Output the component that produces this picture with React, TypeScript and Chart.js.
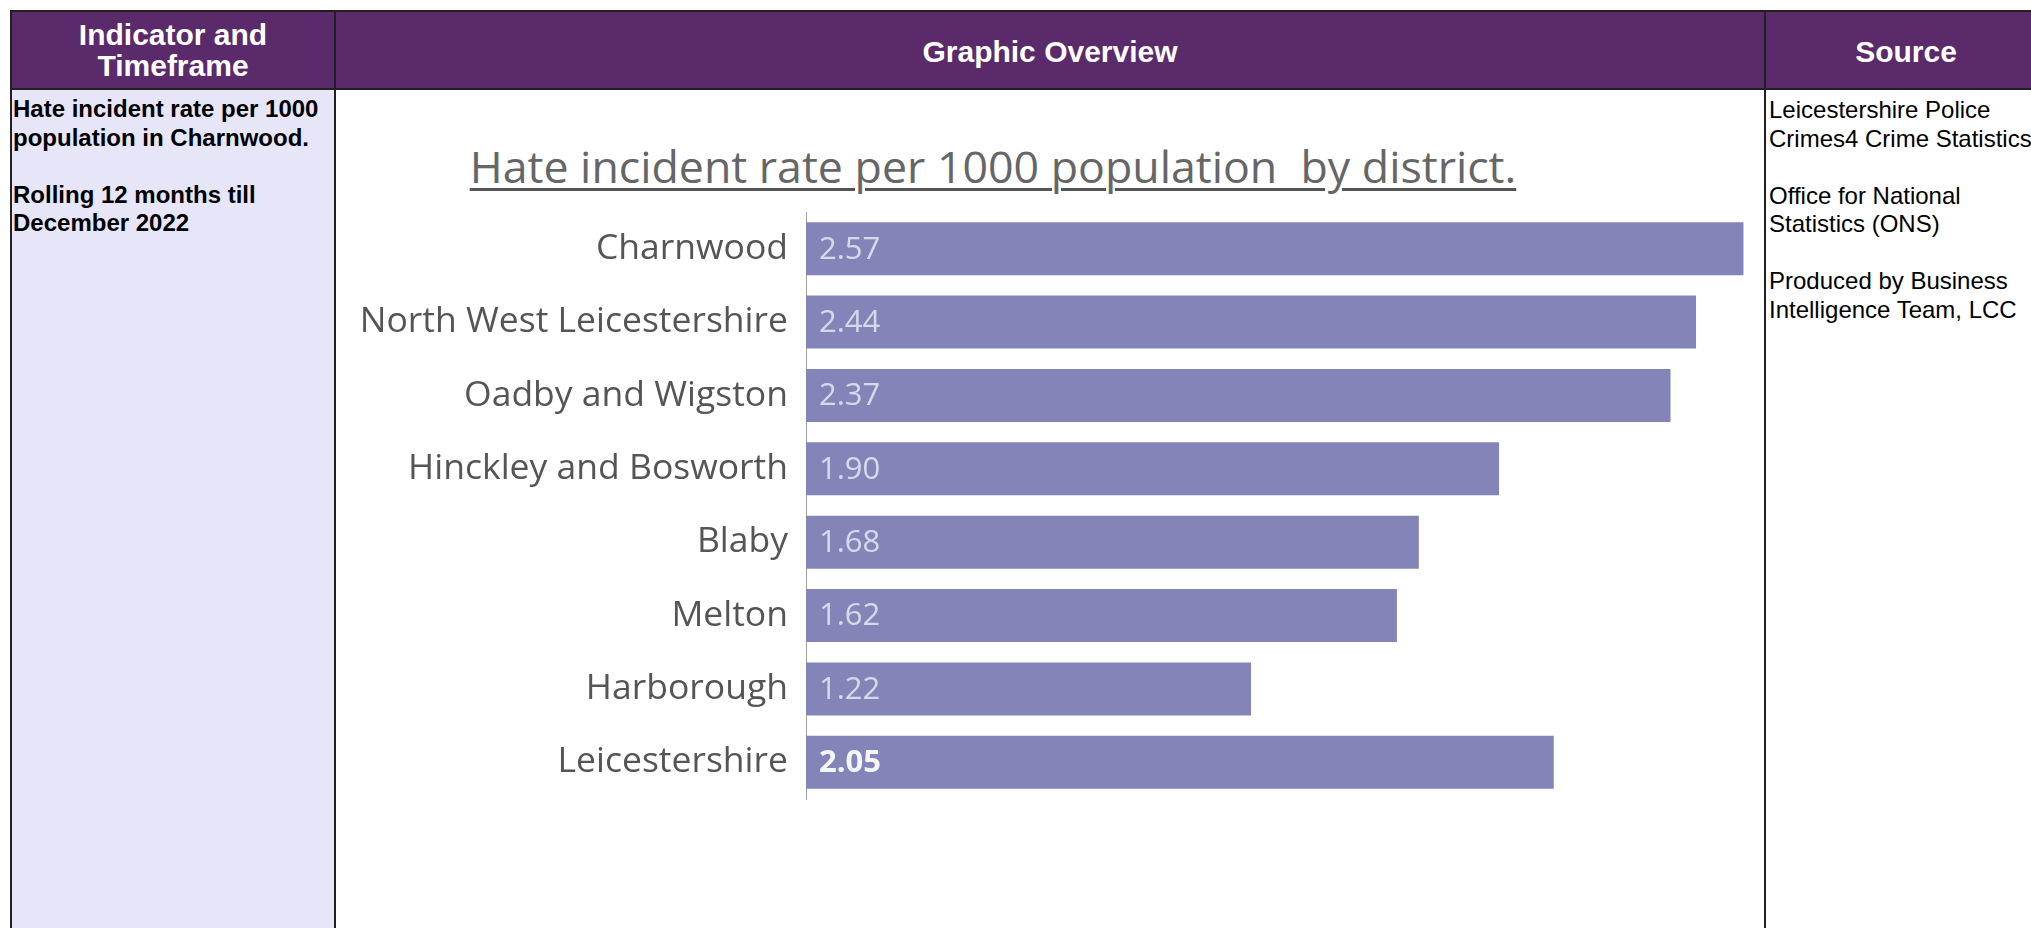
import React, { useEffect, useRef } from "react";
import { Chart, registerables } from "chart.js";

Chart.register(...registerables);

const categories = [
  "Charnwood",
  "North West Leicestershire",
  "Oadby and Wigston",
  "Hinckley and Bosworth",
  "Blaby",
  "Melton",
  "Harborough",
  "Leicestershire",
];
const rates = [2.57, 2.44, 2.37, 1.9, 1.68, 1.62, 1.22, 2.05];
const highlightCategory = "Leicestershire";
const chartTitle = "Hate incident rate per 1000 population  by district.";
const indicatorLines = ["Hate incident rate per 1000", "population in Charnwood.", "", "Rolling 12 months till", "December 2022"];
const sourceLines = [
  "Leicestershire Police",
  "Crimes4 Crime Statistics",
  "",
  "Office for National",
  "Statistics (ONS)",
  "",
  "Produced by Business",
  "Intelligence Team, LCC",
];

const PURPLE = "#5b2a6b";
const LINE = "#231f20";
const LAVENDER = "#e6e6f8";
const BAR = "#8385b9";
const CHART_FONT = "'Open Sans', 'Noto Sans', sans-serif";
const TABLE_FONT = "'Liberation Sans', Arial, sans-serif";

const valueLabelPlugin = {
  id: "valueLabels",
  afterDatasetsDraw(chart: any) {
    const ctx = chart.ctx;
    const meta = chart.getDatasetMeta(0);
    ctx.save();
    ctx.textBaseline = "middle";
    ctx.textAlign = "left";
    meta.data.forEach((bar: any, i: number) => {
      const isHi = categories[i] === highlightCategory;
      ctx.font = `${isHi ? "bold " : ""}31px ${CHART_FONT}`;
      ctx.fillStyle = isHi ? "rgba(255,255,255,0.93)" : "rgba(255,255,255,0.68)";
      ctx.fillText(rates[i].toFixed(2), bar.base + 13, bar.y + 1);
    });
    ctx.restore();
  },
};

function BarChart() {
  const ref = useRef<HTMLCanvasElement | null>(null);
  useEffect(() => {
    if (!ref.current) return;
    const chart = new Chart(ref.current, {
      type: "bar",
      data: {
        labels: categories,
        datasets: [
          {
            data: rates,
            backgroundColor: BAR,
            borderWidth: 0,
            barPercentage: 0.722,
            categoryPercentage: 1,
          },
        ],
      },
      options: {
        indexAxis: "y",
        animation: false,
        responsive: true,
        maintainAspectRatio: false,
        layout: { padding: { top: 121, bottom: 129, left: 0, right: 8.6 } },
        plugins: {
          legend: { display: false },
          tooltip: { enabled: false },
          title: { display: false },
        },
        scales: {
          x: { display: false, min: 0, max: 2.6 },
          y: {
            afterFit: (scale: any) => {
              scale.width = 469;
            },
            grid: { display: false, drawTicks: false },
            border: { display: true, color: "#a0a0a0", width: 1, dash: [1, 6] },
            ticks: {
              padding: 18,
              color: "#555555",
              font: { family: CHART_FONT, size: 35.5 },
            },
          },
        },
      },
      plugins: [valueLabelPlugin],
    });
    return () => chart.destroy();
  }, []);
  return <canvas ref={ref} />;
}

export default function App() {
  const abs = (s: React.CSSProperties): React.CSSProperties => ({ position: "absolute", ...s });
  return (
    <div
      style={{
        position: "fixed",
        left: 0,
        top: 0,
        width: 2031,
        height: 928,
        overflow: "hidden",
        background: "#ffffff",
      }}
    >
      {/* header background */}
      <div style={abs({ left: 10, top: 10, width: 2060, height: 79, background: PURPLE })} />
      {/* lavender column */}
      <div style={abs({ left: 12, top: 90, width: 323, height: 900, background: LAVENDER })} />
      {/* borders */}
      <div style={abs({ left: 10, top: 10, width: 2060, height: 2, background: LINE })} />
      <div style={abs({ left: 10, top: 88, width: 2060, height: 2, background: LINE })} />
      <div style={abs({ left: 10, top: 10, width: 2, height: 930, background: LINE })} />
      <div style={abs({ left: 334, top: 10, width: 2, height: 930, background: LINE })} />
      <div style={abs({ left: 1764, top: 10, width: 2, height: 930, background: LINE })} />

      {/* header texts */}
      <div
        style={abs({
          left: 12,
          top: 19,
          width: 322,
          textAlign: "center",
          color: "#fff",
          fontFamily: TABLE_FONT,
          fontWeight: "bold",
          fontSize: 30,
          lineHeight: "31px",
        })}
      >
        Indicator and
        <br />
        Timeframe
      </div>
      <div
        style={abs({
          left: 336,
          top: 35,
          width: 1428,
          textAlign: "center",
          color: "#fff",
          fontFamily: TABLE_FONT,
          fontWeight: "bold",
          fontSize: 30,
          lineHeight: "34px",
        })}
      >
        Graphic Overview
      </div>
      <div
        style={abs({
          left: 1766,
          top: 35,
          width: 280,
          textAlign: "center",
          color: "#fff",
          fontFamily: TABLE_FONT,
          fontWeight: "bold",
          fontSize: 30,
          lineHeight: "34px",
        })}
      >
        Source
      </div>

      {/* indicator text */}
      <div
        style={abs({
          left: 13,
          top: 95,
          width: 330,
          color: "#000",
          fontFamily: TABLE_FONT,
          fontWeight: "bold",
          fontSize: 24,
          lineHeight: "28.5px",
          whiteSpace: "pre",
        })}
      >
        {indicatorLines.map((l, i) => (
          <div key={i} style={{ height: 28.5 }}>
            {l}
          </div>
        ))}
      </div>

      {/* source text */}
      <div
        style={abs({
          left: 1769,
          top: 96,
          width: 300,
          color: "#000",
          fontFamily: TABLE_FONT,
          fontSize: 24,
          lineHeight: "28.5px",
          whiteSpace: "pre",
        })}
      >
        {sourceLines.map((l, i) => (
          <div key={i} style={{ height: 28.5 }}>
            {l}
          </div>
        ))}
      </div>

      {/* chart title */}
      <div
        style={abs({
          left: 0,
          top: 144,
          width: 1986,
          textAlign: "center",
          color: "#666666",
          fontFamily: CHART_FONT,
          fontSize: 44.7,
          lineHeight: "44px",
          whiteSpace: "pre",
          textDecoration: "underline",
          textDecorationColor: "#555555",
          textDecorationThickness: "3px",
          textUnderlineOffset: "5px",
        })}
      >
        {chartTitle}
      </div>

      {/* chart */}
      <div style={abs({ left: 337, top: 91, width: 1426, height: 837 })}>
        <BarChart />
      </div>
    </div>
  );
}
